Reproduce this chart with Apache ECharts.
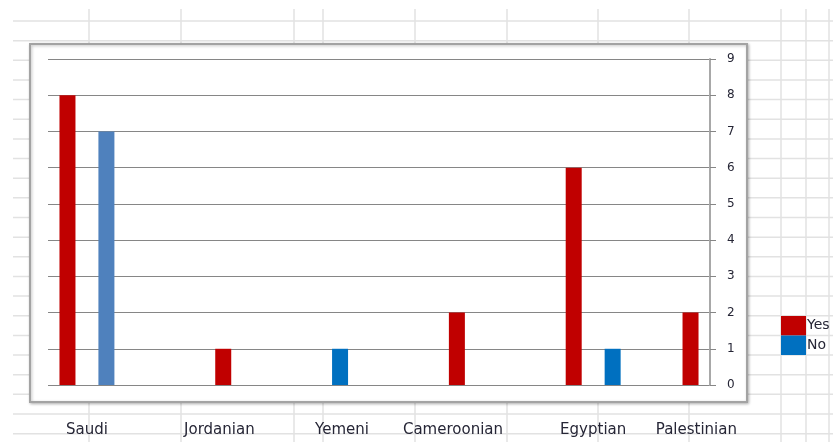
<!DOCTYPE html>
<html>
<head>
<meta charset="utf-8">
<script src="https://cdn.jsdelivr.net/npm/echarts@6/dist/echarts.min.js"></script>
<style>
  html, body { margin: 0; padding: 0; background: #ffffff; }
  #chart { width: 833px; height: 442px; }
</style>
</head>
<body>
<div id="chart"></div>
<script>
// Survey answers per nationality
const nationalities = ['Saudi', 'Jordanian', 'Yemeni', 'Cameroonian', 'Egyptian', 'Palestinian'];
const yesCounts = [8, 1, null, 2, 6, 2];
const noCounts  = [7, null, 1, null, 1, null];
const valueTicks = [0, 1, 2, 3, 4, 5, 6, 7, 8, 9];

// The sheet has 17 value columns; each answer sits in its own column
const columnCount = 17;
const yesColumn = [0, 4, null, 10, 13, 16];
const noColumn  = [1, null, 7, null, 14, null];
// Nationality captions are typed in the cells under the chart
const captionColumn = [0.5, 3.9, 7.05, 9.9, 13.5, 16.15];

const RED = '#C00000';
const BLUE = '#0070C0';
const SAUDI_NO_BLUE = '#4F81BD';
const TEXT = '#262636';
const FONT = 'DejaVu Sans';

const columns = Array.from({ length: columnCount }, (_, i) => String(i));

function placeSeries(values, cols, colorFor) {
  const out = columns.map(() => null);
  values.forEach((v, i) => {
    if (v == null || cols[i] == null) return;
    const item = { value: v };
    const c = colorFor ? colorFor(i) : null;
    if (c) item.itemStyle = { color: c };
    out[cols[i]] = item;
  });
  return out;
}

const yesData = placeSeries(yesCounts, yesColumn);
const noData = placeSeries(noCounts, noColumn, i => nationalities[i] === 'Saudi' ? SAUDI_NO_BLUE : null);

const chart = echarts.init(document.getElementById('chart'), null, { renderer: 'canvas' });

chart.setOption({
  animation: false,
  backgroundColor: '#ffffff',
  textStyle: { fontFamily: FONT },
  grid: { left: 48, right: 123, top: 59, bottom: 57, containLabel: false },
  xAxis: {
    type: 'category',
    data: columns,
    axisLabel: { show: false },
    axisTick: { show: false },
    axisLine: { show: false },
    splitLine: { show: false }
  },
  yAxis: {
    type: 'value',
    position: 'right',
    min: valueTicks[0],
    max: valueTicks[valueTicks.length - 1],
    interval: 1,
    axisLine: { show: true, lineStyle: { color: '#a8a8a8', width: 2 } },
    axisTick: { show: true, inside: false, length: 6, lineStyle: { color: '#868686', width: 1 } },
    axisLabel: { margin: 17, fontSize: 12, color: TEXT, fontFamily: FONT },
    splitLine: { show: true, lineStyle: { color: '#868686', width: 1 } }
  },
  legend: {
    data: ['Yes', 'No'],
    orient: 'vertical',
    left: 781,
    top: 316,
    padding: 0,
    itemGap: 0,
    itemWidth: 25,
    itemHeight: 19.5,
    icon: 'rect',
    selectedMode: false,
    textStyle: { fontSize: 14, color: TEXT, fontFamily: FONT, padding: [0, 0, 0, -4] }
  },
  series: [
    {
      name: 'Yes',
      type: 'bar',
      data: yesData,
      barWidth: 16,
      barGap: '-100%',
      itemStyle: { color: RED },
      z: 3
    },
    {
      name: 'No',
      type: 'bar',
      data: noData,
      barWidth: 16,
      barGap: '-100%',
      itemStyle: { color: BLUE },
      z: 3
    }
  ]
});

// Worksheet backdrop, chart frame and the captions below it
const graphics = [];
const sheetLine = { stroke: '#e2e2e2', lineWidth: 1.5 };
const colLines = [89, 181, 294, 323, 415, 507, 598, 689, 781, 806, 829];
colLines.forEach(x => {
  graphics.push({ type: 'line', z: -3, silent: true, shape: { x1: x, y1: 9, x2: x, y2: 442 }, style: sheetLine });
});
for (let k = 0; k < 22; k++) {
  const y = 21 + 19.65 * k;
  graphics.push({ type: 'line', z: -3, silent: true, shape: { x1: 13, y1: y, x2: 833, y2: y }, style: sheetLine });
}
graphics.push({
  type: 'rect', z: -1, silent: true,
  shape: { x: 30, y: 44, width: 717, height: 358 },
  style: {
    fill: '#ffffff', stroke: '#a3a3a3', lineWidth: 2,
    shadowBlur: 3, shadowOffsetX: 1, shadowOffsetY: 1, shadowColor: 'rgba(0,0,0,0.25)'
  }
});

// Pixel position of a (possibly fractional) column, from the axis' own scale
const firstColPx = chart.convertToPixel({ xAxisIndex: 0 }, columns[0]);
const colStep = chart.convertToPixel({ xAxisIndex: 0 }, columns[1]) - firstColPx;
function columnToPixel(c) {
  return firstColPx + c * colStep;
}

nationalities.forEach((name, i) => {
  graphics.push({
    type: 'text', z: 10, silent: true,
    x: columnToPixel(captionColumn[i]),
    y: 430,
    style: {
      text: name, fill: TEXT, font: '15px "' + FONT + '"',
      align: 'center', verticalAlign: 'middle'
    }
  });
});

chart.setOption({ graphic: { elements: graphics } });
</script>
</body>
</html>
